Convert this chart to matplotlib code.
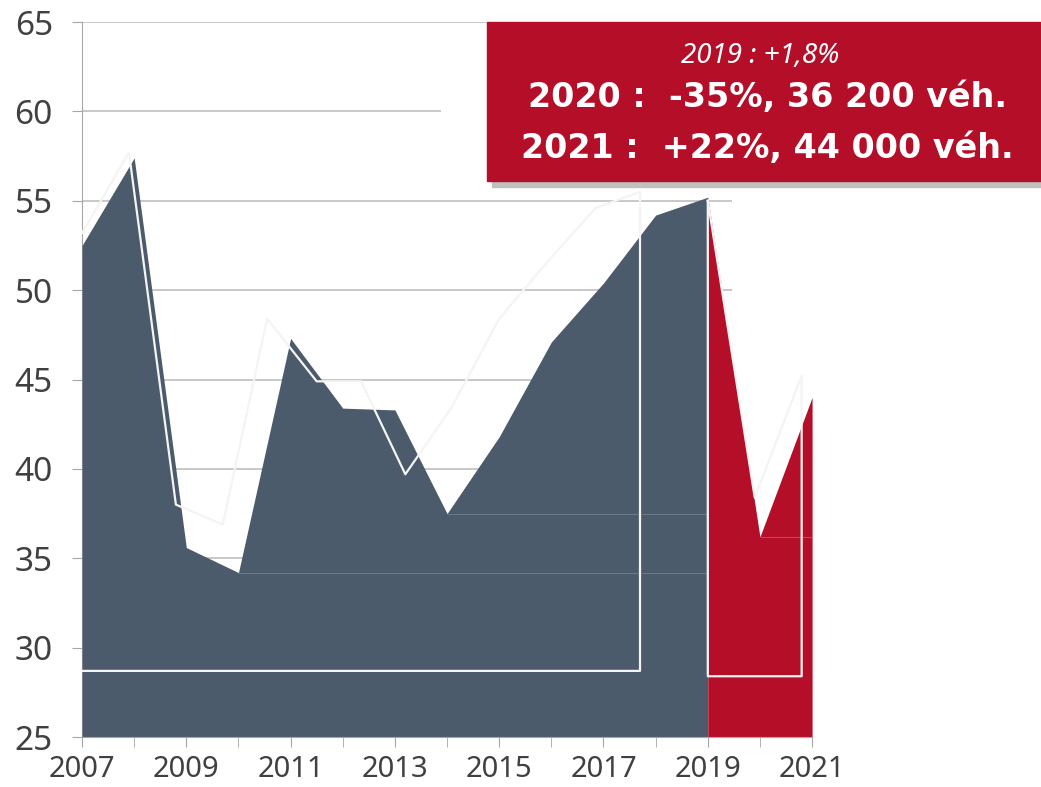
import matplotlib.pyplot as plt
from matplotlib.patches import Rectangle

# annual values (thousands of vehicles)
years = [2007, 2008, 2009, 2010, 2011, 2012, 2013, 2014, 2015, 2016, 2017, 2018, 2019]
values = [52.5, 57.4, 35.6, 34.2, 47.3, 43.4, 43.3, 37.5, 41.8, 47.1, 50.4, 54.2, 55.2]
years_covid = [2019, 2020, 2021]
values_covid = [55.2, 36.2, 44.0]

# faint white outline left over in the original picture
ghost_x = [2007.0, 2007.9, 2008.8, 2009.7, 2010.55, 2011.5, 2012.35, 2013.2, 2014.1,
           2015.0, 2015.9, 2016.85, 2017.7, 2017.7, 2007.0]
ghost_y = [53.2, 57.7, 38.0, 36.9, 48.4, 44.9, 44.9, 39.7, 43.5,
           48.4, 51.5, 54.6, 55.5, 28.7, 28.7]
ghost2_x = [2019.0, 2019.0, 2020.8, 2020.8, 2019.9, 2019.0]
ghost2_y = [55.0, 28.4, 28.4, 45.2, 38.4, 55.0]

slate = '#4b5b6b'
red = '#b50e28'

plt.rcParams['font.family'] = ['Noto Sans', 'DejaVu Sans']

fig = plt.figure(figsize=(10.41, 7.87), dpi=100)
ax = fig.add_axes([0.0788, 0.0635, 0.7013, 0.9085])

# gridlines
for g in [30, 35, 40, 45, 50, 55, 65]:
    ax.hlines(g, 2007, 2019.46, color='#bfbfbf', lw=1.2, zorder=0)
ax.hlines(60, 2007, 2013.89, color='#bfbfbf', lw=1.2, zorder=0)

ax.fill_between(years, values, 25, color=slate, lw=0, zorder=2)
ax.fill_between(years_covid, values_covid, 25, color=red, lw=0, zorder=2)

# lighter lines inside the areas
ax.hlines(34.2, 2010, 2019, color='#6a7886', lw=0.8, zorder=3)
ax.hlines(37.5, 2014, 2019, color='#6a7886', lw=0.8, zorder=3)
ax.hlines(36.2, 2020, 2021, color='#c84058', lw=0.8, zorder=3)

ax.plot(ghost_x, ghost_y, color='#f4f4f4', lw=1.6, zorder=4)
ax.plot(ghost2_x, ghost2_y, color='#f4f4f4', lw=1.6, zorder=4)

ax.set_xlim(2007, 2021)
ax.set_ylim(25, 65)
ax.set_yticks(range(25, 66, 5))
ax.set_xticks(range(2007, 2022, 2))
ax.set_xticks(range(2007, 2022), minor=True)

for s in ['top', 'right']:
    ax.spines[s].set_visible(False)
ax.spines['left'].set_color('#a6a6a6')
ax.spines['bottom'].set_color('#a6a6a6')
ax.spines['left'].set_zorder(1)
ax.tick_params(axis='y', length=7, color='#a6a6a6', labelsize=24, labelcolor='#404040', pad=14)
ax.tick_params(axis='x', which='both', length=7, color='#a6a6a6', labelsize=21, labelcolor='#404040', pad=6)

# annotation box with shadow
fig.patches.append(Rectangle((492 / 1041, 1 - 187 / 787), 549 / 1041, 158 / 787,
                             transform=fig.transFigure, color='#c0c0c0', zorder=5))
fig.patches.append(Rectangle((487 / 1041, 1 - 181 / 787), 554 / 1041, 159 / 787,
                             transform=fig.transFigure, color=red, zorder=6))
fig.text(760 / 1041, 1 - 63 / 787, '2019 : +1,8%', color='white', fontsize=20, style='italic',
         ha='center', va='baseline', zorder=7)
fig.text(767 / 1041, 1 - 107 / 787, '2020 :  -35%, 36 200 véh.', color='white', fontsize=24,
         fontweight='bold', family=['DejaVu Sans'], ha='center', va='baseline', zorder=7)
fig.text(767 / 1041, 1 - 158 / 787, '2021 :  +22%, 44 000 véh.', color='white', fontsize=24,
         fontweight='bold', family=['DejaVu Sans'], ha='center', va='baseline', zorder=7)

fig.savefig('out.png', dpi=100)
